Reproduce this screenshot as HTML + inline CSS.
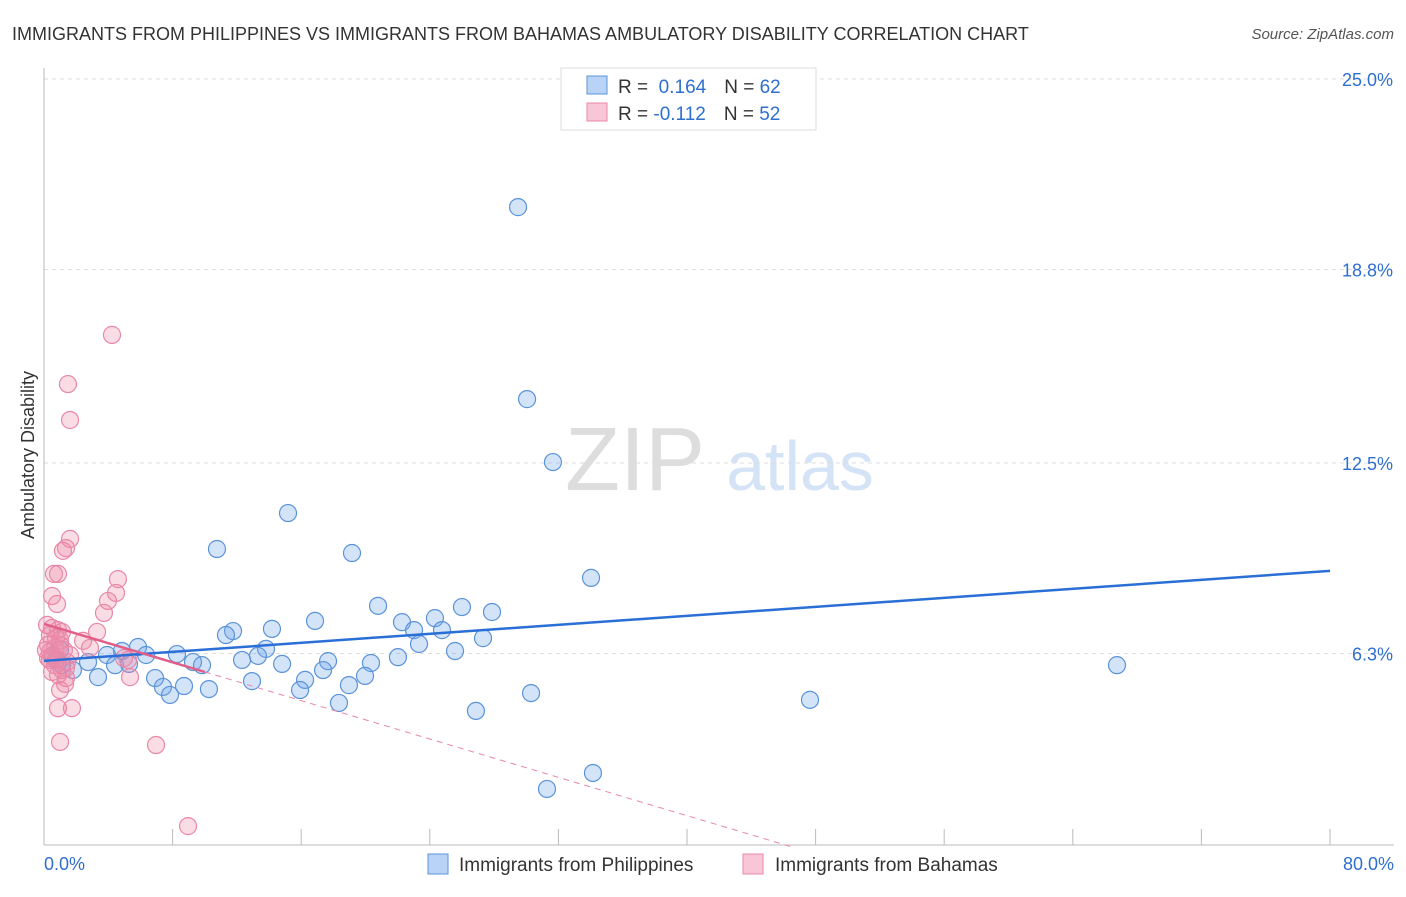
<!DOCTYPE html>
<html><head><meta charset="utf-8"><style>
body{margin:0;background:#fff;font-family:"Liberation Sans",sans-serif;}
svg text{font-family:"Liberation Sans",sans-serif;}
</style></head><body>
<svg id="c" width="1406" height="892" xmlns="http://www.w3.org/2000/svg">
<text x="12" y="40" font-size="18" fill="#333">IMMIGRANTS FROM PHILIPPINES VS IMMIGRANTS FROM BAHAMAS AMBULATORY DISABILITY CORRELATION CHART</text>
<text x="1394" y="39" font-size="15" fill="#555" font-style="italic" text-anchor="end">Source: ZipAtlas.com</text>
<text x="635" y="490" font-size="90" fill="#ddd" font-family="Liberation Serif" text-anchor="middle">ZIP</text>
<text x="800" y="490" font-size="70" fill="#d4e3f5" text-anchor="middle">atlas</text>
<text transform="translate(34,455) rotate(-90)" font-size="18" fill="#333" text-anchor="middle">Ambulatory Disability</text>
<g id="grid"></g><g id="pts"></g><g id="lines"></g>
<g>
<rect x="561" y="68" width="255" height="62" fill="#fff" stroke="#ddd"/>
<rect x="587" y="76" width="20" height="18" fill="#b8d3f5" stroke="#5b93d8"/>
<rect x="587" y="103" width="20" height="18" fill="#f8c6d6" stroke="#e888a8"/>
<text x="618" y="93" font-size="19" fill="#333">R = <tspan fill="#2f6fd0">&#160;0.164</tspan><tspan dx="18">N = </tspan><tspan fill="#2f6fd0">62</tspan></text>
<text x="618" y="120" font-size="19" fill="#333">R = <tspan fill="#2f6fd0">-0.112</tspan><tspan dx="18">N = </tspan><tspan fill="#2f6fd0">52</tspan></text>
</g>
<g>
<rect x="428" y="854" width="20" height="20" fill="#b8d3f5" stroke="#5b93d8"/>
<text x="459" y="871" font-size="19" fill="#333">Immigrants from Philippines</text>
<rect x="743" y="854" width="20" height="20" fill="#f8c6d6" stroke="#e888a8"/>
<text x="775" y="871" font-size="19" fill="#333">Immigrants from Bahamas</text>
</g>
<text x="44" y="870" font-size="18" fill="#2f6fd0">0.0%</text>
<text x="1394" y="870" font-size="18" fill="#2f6fd0" text-anchor="end">80.0%</text>
</svg>
<script>
const yTicks=[25.0,18.8,12.5,6.3];
const yTickLabels=["25.0%","18.8%","12.5%","6.3%"];
const xTicks=[0,8,16,24,32,40,48,56,64,72,80];
const bluePx=[[518,207],[527,399],[553,462],[288,513],[217,549],[352,553],[591,578],[378,606],[462,607],[492,612],[435,618],[315,621],[402,622],[442,630],[414,630],[233,631],[272,629],[226,635],[483,638],[419,644],[266,649],[138,647],[122,651],[107,655],[146,655],[177,654],[455,651],[398,657],[242,660],[258,656],[328,661],[193,662],[202,665],[282,664],[371,663],[88,662],[115,665],[129,664],[73,670],[56,660],[323,670],[365,676],[305,680],[155,678],[252,681],[98,677],[184,686],[163,687],[209,689],[300,690],[349,685],[170,695],[531,693],[339,703],[810,700],[476,711],[1117,665],[593,773],[547,789],[60,650],[52,656],[62,665]];
const pinkPx=[[112,335],[68,384],[70,420],[70,539],[66,548],[63,551],[54,574],[58,574],[118,579],[116,593],[52,596],[108,601],[57,604],[104,613],[52,628],[58,630],[62,632],[97,632],[50,635],[83,641],[60,640],[48,645],[55,648],[50,652],[64,650],[48,658],[58,660],[67,662],[55,665],[124,658],[128,660],[66,668],[52,672],[62,670],[130,677],[58,675],[65,684],[60,690],[72,708],[58,708],[60,742],[156,745],[188,826],[50,660],[53,655],[70,655],[46,650],[60,645],[56,638],[90,648],[66,678],[47,625]];
// data values (x in %, y in %)
const blueX=bluePx.map(p=>+((p[0]-44)/16.075).toFixed(2));
const blueY=bluePx.map(p=>+((847-p[1])/30.72).toFixed(2));
const pinkX=pinkPx.map(p=>+((p[0]-44)/16.075).toFixed(2));
const pinkY=pinkPx.map(p=>+((847-p[1])/30.72).toFixed(2));
const blueFit=[6.06,8.99];   // y at x=0, y at x=80
const pinkFit=[7.26,-0.156]; // intercept, slope
const X=v=>44+v*16.075, Y=v=>847-v*30.72;
const NS="http://www.w3.org/2000/svg";
function mk(t,a,p){const e=document.createElementNS(NS,t);for(const k in a)e.setAttribute(k,a[k]);p.appendChild(e);return e;}
const svg=document.getElementById('c'),grid=document.getElementById('grid'),pts=document.getElementById('pts'),lines=document.getElementById('lines');
yTicks.forEach((t,i)=>{
 const l=mk('line',{x1:44,x2:1394,y1:Y(t),y2:Y(t),stroke:'#ddd','stroke-dasharray':'4,4'},grid);
 
 
 const tx=mk('text',{x:1393,y:Y(t)+7,'font-size':18,fill:'#2f6fd0','text-anchor':'end'},grid);
 tx.textContent=yTickLabels[i];
 
 
});
const ax=mk('line',{x1:44,x2:1394,y1:845,y2:845,stroke:'#bbb'},grid);


const ay=mk('line',{x1:44,x2:44,y1:68,y2:845,stroke:'#bbb'},grid);


xTicks.forEach(t=>{
 const l=mk('line',{x1:X(t),x2:X(t),y1:829,y2:845,stroke:'#bbb'},grid);
 
 
});
blueX.forEach((x,i)=>{
 const c=mk('circle',{cx:X(x),cy:Y(blueY[i]),r:8.5,fill:'rgba(110,165,235,0.3)',stroke:'#5b93d8','stroke-width':1.2},pts);
 
 
});
pinkX.forEach((x,i)=>{
 const c=mk('circle',{cx:X(x),cy:Y(pinkY[i]),r:8.5,fill:'rgba(240,140,170,0.3)',stroke:'#e888a8','stroke-width':1.2},pts);
 
 
});
const bl=mk('line',{x1:X(0),y1:Y(blueFit[0]),x2:X(80),y2:Y(blueFit[1]),stroke:'#2a6fd6','stroke-width':2.5},lines);


const pEnd=-pinkFit[0]/pinkFit[1];
const pd=mk('line',{x1:X(10),y1:Y(pinkFit[0]+10*pinkFit[1]),x2:X(pEnd),y2:Y(0),stroke:'#e888a8','stroke-width':1,'stroke-dasharray':'6,5'},lines);


const ps=mk('line',{x1:X(0),y1:Y(pinkFit[0]),x2:X(10),y2:Y(pinkFit[0]+10*pinkFit[1]),stroke:'#e0608a','stroke-width':2.5},lines);


</script>
</body></html>
